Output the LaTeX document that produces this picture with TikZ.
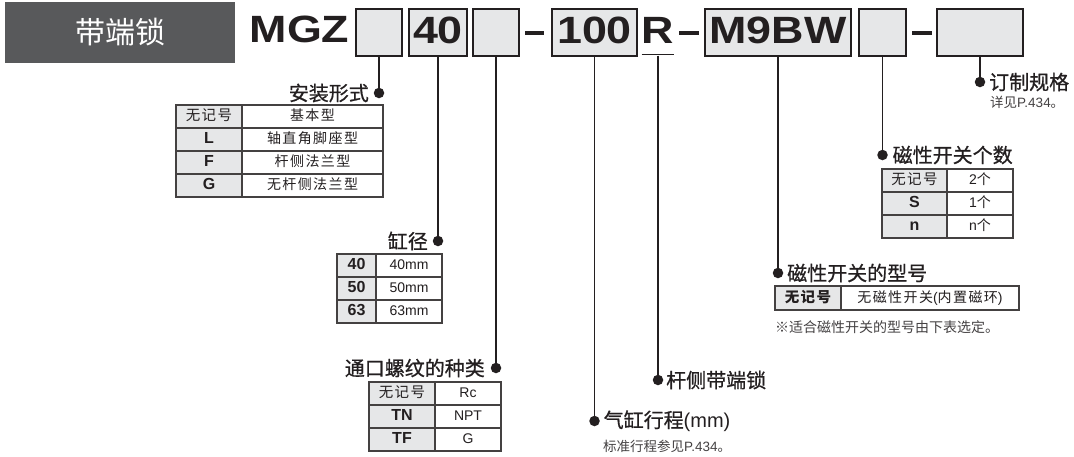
\documentclass[tikz,border=0pt]{standalone}
\usepackage{fontspec}
\setmainfont{Liberation Sans}
\newfontfamily\cjk{Noto Sans CJK SC}
\newfontfamily\cjkl{Noto Sans CJK SC}[FakeBold=0.8]
\newfontfamily\cjkt{Noto Sans CJK SC}[LetterSpace=10]
\newfontfamily\hdfont{Liberation Sans}[FakeStretch=1.18]
\definecolor{hdgray}{HTML}{58595B}
\definecolor{boxgray}{HTML}{E6E7E8}
\definecolor{ink}{HTML}{231F20}
\newcommand\nosym{{\cjkt\mdseries\fontsize{14.5}{15}\selectfont 无记号}}
\tikzset{
  hdbox/.style={fill=hdgray,text=white,minimum width=230pt,minimum height=61pt,inner sep=0pt,font=\cjk\fontsize{30}{31}\selectfont},
  hdtext/.style={inner sep=0pt,text=ink,font=\hdfont\bfseries\fontsize{38}{40}\selectfont},
  codebox/.style={hdtext,draw=ink,fill=boxgray,line width=1.5pt,minimum height=47pt,text height=27pt,text depth=5pt},
  dashline/.style={ink,line width=3.5pt},
  uline/.style={ink,line width=1.6pt},
  link/.style={ink,line width=1.8pt},
  dot/.style={circle,fill=ink,inner sep=0pt,minimum size=10.5pt},
  lbl/.style={inner sep=0pt,text=ink,font=\cjkl\fontsize{20}{22}\selectfont},
  note/.style={inner sep=0pt,text=ink!85,font=\fontsize{13.5}{15}\selectfont},
  cell/.style={draw=ink!85,line width=1.2pt,minimum height=23pt,inner sep=0pt,text=ink,text height=10pt,text depth=2pt},
  keycell/.style={cell,fill=boxgray,font=\bfseries\fontsize{16}{16}\selectfont},
  valcell/.style={cell,fill=white,font=\fontsize{14}{15}\selectfont},
}
\begin{document}
\begin{tikzpicture}[x=1pt,y=-1pt]
  \useasboundingbox (0,0) rectangle (1074,456);
  \node[hdbox] (hd) at (120,32.5) {带端锁};
  \node[hdtext,anchor=base] (mgz) at (299.5,42.5) {MGZ};
  \node[codebox,minimum width=46pt] (b1) at (379,32.5) {};
  \node[codebox,minimum width=58pt] (b2) at (438,32.5) {40};
  \node[codebox,minimum width=46pt] (b3) at (496,32.5) {};
  \node[codebox,minimum width=85pt] (b4) at (594.5,32.5) {100};
  \node[hdtext,anchor=base] (r) at (658,43.5) {R};
  \node[codebox,minimum width=146pt] (b5) at (778,32.5) {M9BW};
  \node[codebox,minimum width=47pt] (b6) at (882.5,32.5) {};
  \node[codebox,minimum width=86pt] (b7) at (980,32.5) {};
  \draw[dashline] (525,33) -- (544,33);
  \draw[dashline] (679,33) -- (699,33);
  \draw[dashline] (912,33) -- (932,33);
  \draw[uline] ([yshift=-11pt]r.base west) -- ([yshift=-11pt]r.base east);

  \coordinate (d1) at (b1.south |- 0,93);
  \coordinate (d2) at (b2.south |- 0,241);
  \coordinate (d3) at (b3.south |- 0,368);
  \coordinate (d4) at (b4.south |- 0,421);
  \coordinate (d5) at (r.south |- 0,380);
  \coordinate (d6) at (b5.south |- 0,273);
  \coordinate (d7) at (b6.south |- 0,155);
  \coordinate (d8) at (b7.south |- 0,82);
  \draw[link] (b1.south) -- (d1) node[dot] {};
  \draw[link] (b2.south) -- (d2) node[dot] {};
  \draw[link] (b3.south) -- (d3) node[dot] {};
  \draw[link] (b4.south) -- (d4) node[dot] {};
  \draw[link] ([yshift=-12pt]r.base) -- (d5) node[dot] {};
  \draw[link] (b5.south) -- (d6) node[dot] {};
  \draw[link] (b6.south) -- (d7) node[dot] {};
  \draw[link] (b7.south) -- (d8) node[dot] {};

  \node[lbl,anchor=east] (l1) at ([xshift=-10pt]d1) {安装形式};
  \node[lbl,anchor=east] (l2) at ([xshift=-10pt]d2) {缸径};
  \node[lbl,anchor=east] (l3) at ([xshift=-11pt]d3) {通口螺纹的种类};
  \node[lbl,anchor=west] (l4) at ([xshift=9pt]d4) {气缸行程\fontspec{Liberation Sans}(mm)};
  \node[note,anchor=west] (n4) at (603,446) {{\cjk 标准行程参见}P.434{\cjk 。}};
  \node[lbl,anchor=west] (l5) at ([xshift=8pt]d5) {杆侧带端锁};
  \node[lbl,anchor=west] (l6) at ([xshift=9pt]d6) {磁性开关的型号};
  \node[note,anchor=west,font=\cjk\fontsize{14}{15}\selectfont] (n6) at (775,327) {※适合磁性开关的型号由下表选定。};
  \node[lbl,anchor=west] (l7) at ([xshift=10pt]d7) {磁性开关个数};
  \node[lbl,anchor=west] (l8) at ([xshift=9pt]d8) {订制规格};
  \node[note,anchor=west] (n8) at (990,102) {{\cjk 详见}P.434{\cjk 。}};

  \foreach \k/\v [count=\i from 0] in {\nosym/{\cjkt 基本型}, L/{\cjkt 轴直角脚座型}, F/{\cjkt 杆侧法兰型}, G/{\cjkt 无杆侧法兰型}} {
    \node[keycell,minimum width=66pt] (ta-k\i) at (209,116.5+23*\i) {\k};
    \node[valcell,minimum width=141pt] (ta-v\i) at (312.5,116.5+23*\i) {\v};
  }
  \foreach \k/\v [count=\i from 0] in {40/40mm, 50/50mm, 63/63mm} {
    \node[keycell,minimum width=39pt] (tb-k\i) at (356.5,265.5+23*\i) {\k};
    \node[valcell,minimum width=66pt] (tb-v\i) at (409,265.5+23*\i) {\v};
  }
  \foreach \k/\v [count=\i from 0] in {\nosym/Rc, TN/NPT, TF/G} {
    \node[keycell,minimum width=66pt] (tc-k\i) at (402,393.5+23*\i) {\k};
    \node[valcell,minimum width=66pt] (tc-v\i) at (468,393.5+23*\i) {\v};
  }
  \node[keycell,minimum width=66pt,minimum height=24pt] (td-k0) at (808,298) {{\cjkt\bfseries\fontsize{14.5}{15}\selectfont 无记号}};
  \node[valcell,minimum width=178pt,minimum height=24pt] (td-v0) at (930,298) {{\cjkt 无磁性开关}({\cjkt 内置磁环})};
  \foreach \k/\v [count=\i from 0] in {\nosym/2{\cjkt 个}, S/1{\cjkt 个}, n/n{\cjkt 个}} {
    \node[keycell,minimum width=65pt] (te-k\i) at (914.5,180.5+23*\i) {\k};
    \node[valcell,minimum width=66pt] (te-v\i) at (980,180.5+23*\i) {\v};
  }
\end{tikzpicture}
\end{document}
